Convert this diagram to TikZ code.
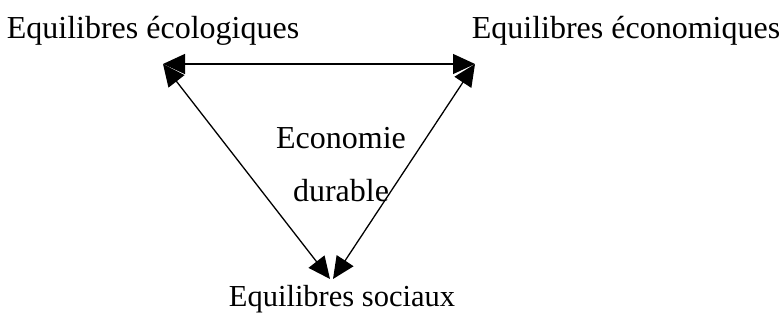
\documentclass[tikz,border=0pt]{standalone}
\usepackage{fontspec}
\setmainfont{Liberation Serif}
\usetikzlibrary{arrows.meta}
\tikzset{
    label text/.style={anchor=base, inner sep=0pt, font=\fontsize{32}{37}\selectfont},
    link/.style={line width=1.3pt, {Triangle[length=22pt,width=20pt]}-{Triangle[length=22pt,width=20pt]}}
}
\begin{document}
\begin{tikzpicture}[x=1pt, y=-1pt]
    \useasboundingbox (0,0) rectangle (779,320);
    % Labels at the corners
    \node (ecolo) at (153, 39) [label text] {Equilibres écologiques};
    \node (econo) at (626, 39) [label text] {Equilibres économiques};
    \node (social) at (342, 307) [label text, font=\fontsize{30.5}{36}\selectfont] {Equilibres sociaux};
    % Centre text
    \node (centre1) at (341, 149) [label text] {Economie};
    \node (centre2) at (341, 202) [label text] {durable};
    % Arrow ends
    \coordinate (a) at (163, 64);
    \coordinate (b) at (475, 64);
    \coordinate (c) at (330, 279);
    \coordinate (d) at (333, 279);
    % Double arrows
    \draw[link] (a) -- (b);
    \draw[link] (a) -- (c);
    \draw[link] (b) -- (d);
\end{tikzpicture}
\end{document}
